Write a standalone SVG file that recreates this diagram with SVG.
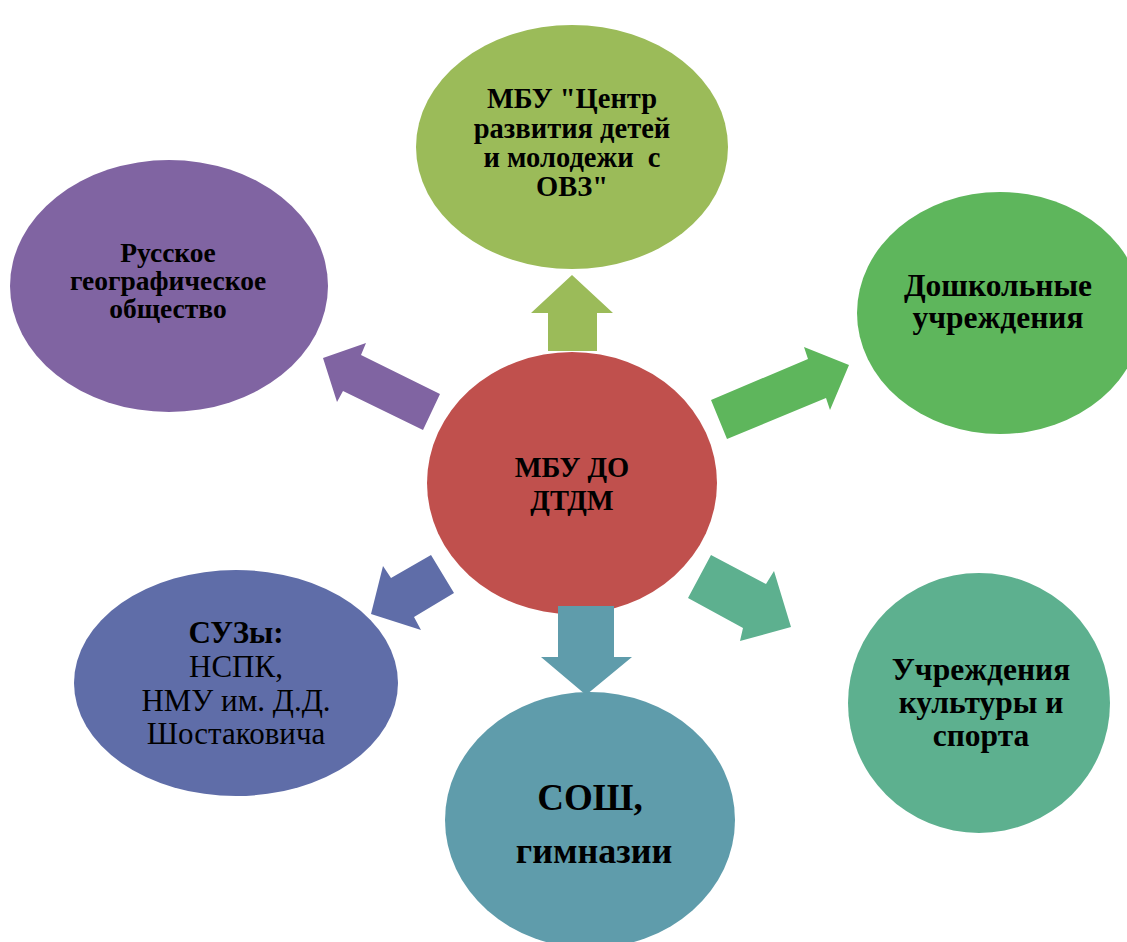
<svg xmlns="http://www.w3.org/2000/svg" width="1127" height="942" viewBox="0 0 1127 942">
<style>
text{font-family:"Liberation Serif","Times New Roman",serif;fill:#000;text-anchor:middle}
.b{font-weight:bold}
</style>
<rect width="1127" height="942" fill="#fff"/>
<g id="connectors">
<polygon fill="#9BBB59" points="548,351 548,313 531,313 572,275 613,313 597,313 597,351"/>
<polygon fill="#8064A2" points="323,358 366,343 361,355 440,394 423,430 343,391 337,402"/>
<polygon fill="#5EB65C" points="711,400 808,359 804,347 849,365 830,410 826,398 727,439"/>
<polygon fill="#5DB08F" points="711,555 766,584 774,571 791,627 740,641 743,628 688,598"/>
<polygon fill="#5F6DA8" points="431,555 391,578 383,566 371,614 421,630 414,617 454,593"/>
</g>
<g id="node-center">
<ellipse cx="572" cy="483" rx="145" ry="131" fill="#C0504D"/>
<text class="b" font-size="28.5" x="572" y="477">МБУ ДО</text>
<text class="b" font-size="28.5" x="572" y="510">ДТДМ</text>
</g>
<polygon fill="#5F9CAB" points="558,606 614,606 614,657 632,657 586,695 541,657 558,657"/>
<g id="node-top">
<ellipse cx="572" cy="147" rx="156" ry="122" fill="#9BBB59"/>
<text class="b" font-size="28.5" x="572" y="108">МБУ "Центр</text>
<text class="b" font-size="28.5" x="572" y="138">развития детей</text>
<text class="b" font-size="28.5" x="572" y="167" xml:space="preserve">и молодежи  с</text>
<text class="b" font-size="28.5" x="572" y="196">ОВЗ"</text>
</g>
<g id="node-rgo">
<ellipse cx="169" cy="286" rx="159" ry="126" fill="#8064A2"/>
<text class="b" font-size="27.5" x="168" y="262">Русское</text>
<text class="b" font-size="27.5" x="168" y="290">географическое</text>
<text class="b" font-size="27.5" x="168" y="318">общество</text>
</g>
<g id="node-dou">
<ellipse cx="1000" cy="313" rx="143" ry="121" fill="#5EB65C"/>
<text class="b" font-size="31.5" x="998" y="296">Дошкольные</text>
<text class="b" font-size="31.5" x="998" y="328">учреждения</text>
</g>
<g id="node-culture">
<ellipse cx="979" cy="703" rx="131" ry="130" fill="#5DB08F"/>
<text class="b" font-size="31.5" x="981" y="680">Учреждения</text>
<text class="b" font-size="31.5" x="981" y="713">культуры и</text>
<text class="b" font-size="31.5" x="981" y="746">спорта</text>
</g>
<g id="node-suz">
<ellipse cx="236" cy="683" rx="162" ry="113" fill="#5F6DA8"/>
<text class="b" font-size="31" x="236" y="643">СУЗы:</text>
<text font-size="31" x="236" y="677">НСПК,</text>
<text font-size="31" x="236" y="711">НМУ им. Д.Д.</text>
<text font-size="31" x="236" y="744">Шостаковича</text>
</g>
<g id="node-school">
<ellipse cx="590" cy="820" rx="145" ry="128" fill="#5F9CAB"/>
<text class="b" font-size="37" x="590" y="810">СОШ,</text>
<text class="b" font-size="36" x="594" y="863">гимназии</text>
</g>
</svg>
